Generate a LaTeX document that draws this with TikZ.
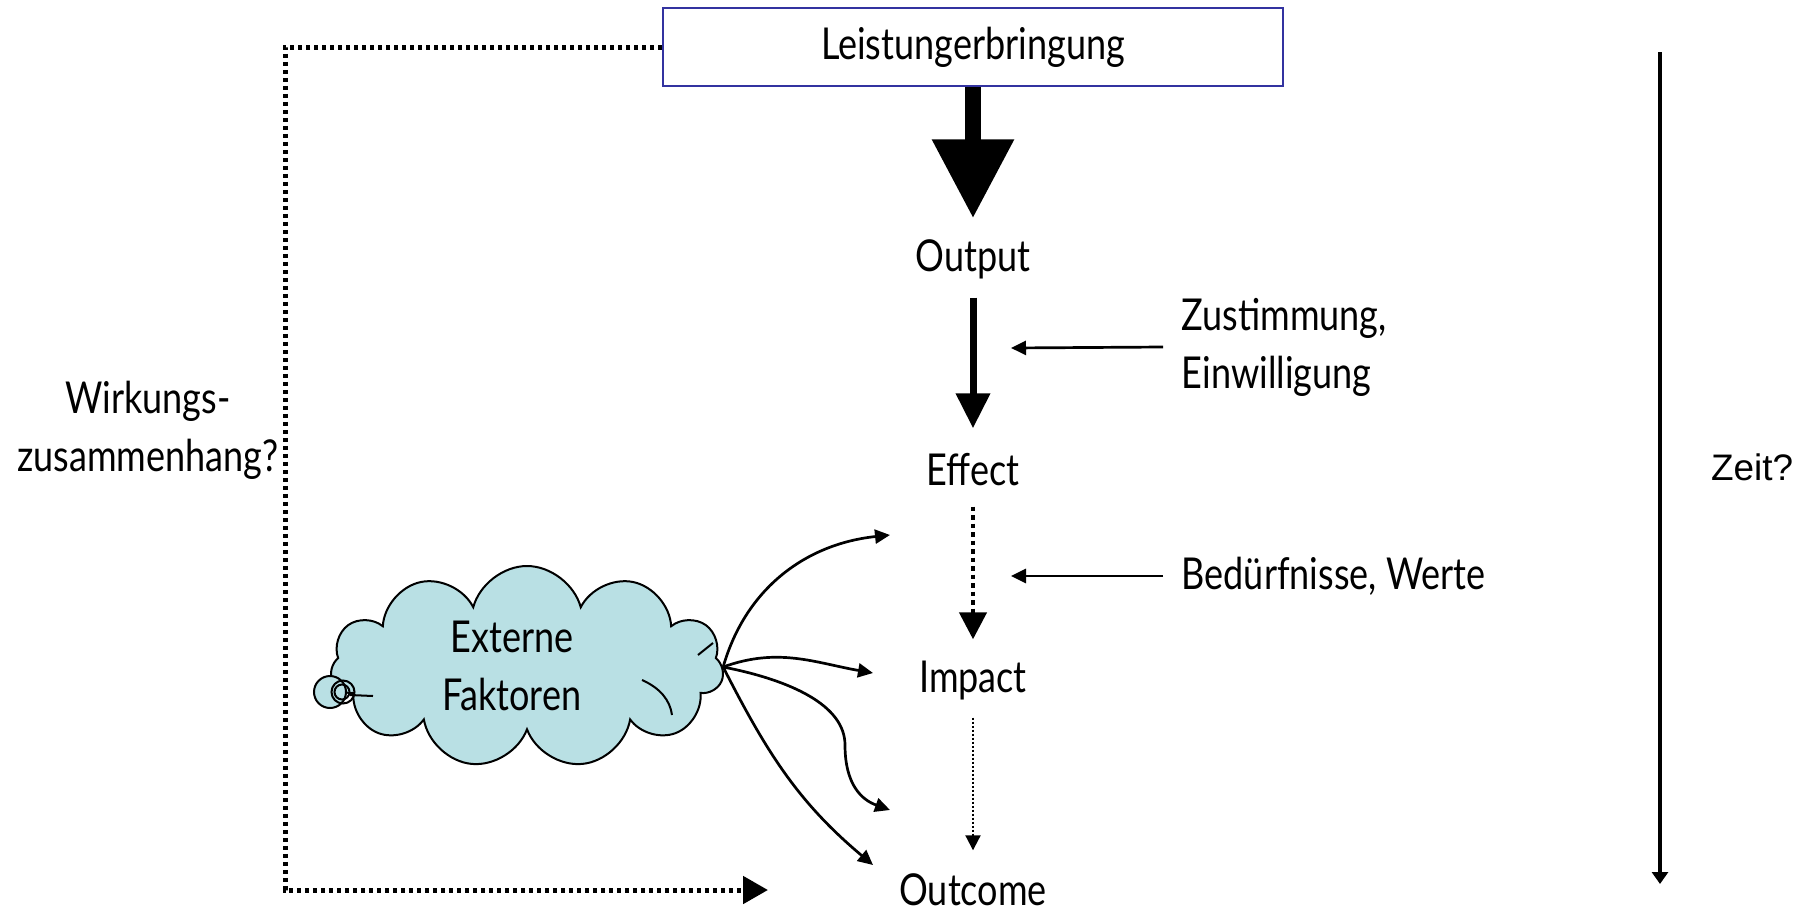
\documentclass[tikz,border=0pt]{standalone}
\usepackage{fontspec}
\setmainfont[FakeStretch=0.82]{Lato}
\newfontfamily\zeitfont{Liberation Sans}
\usetikzlibrary{arrows.meta, shapes.symbols}
\definecolor{cloudblue}{RGB}{185,224,228}
\definecolor{boxblue}{RGB}{51,51,160}

\begin{document}
\begin{tikzpicture}[x=0.1mm, y=-0.1mm,
  every node/.style={font=\fontsize{12.5}{16.5}\selectfont},
  stage/.style={minimum height=4mm, inner sep=0pt},
  side/.style={anchor=west, align=left, inner xsep=1.8mm, inner ysep=0pt},
  tip/.style={-{Triangle[length=1.5mm, width=1.4mm]}, line width=0.27mm}]
\useasboundingbox (0,0) rectangle (1805,911);
\node (lst) at (973,47) [draw=boxblue, line width=0.2mm, minimum width=62mm, minimum height=7.8mm] {Leistungerbringung};
\node (out) at (973,259) [stage] {Output};
\node (eff) at (973,470) [stage] {Effect};
\node (imp) at (973,681) [stage] {Impact};
\node (outc) at (973,890) [stage] {Outcome};
\node (zust) at (1163,347) [side] {Zustimmung,\\Einwilligung};
\node (bed) at (1163,576) [side] {Bedürfnisse, Werte};
\node (wirk) at (148,430) [align=center] {Wirkungs-\\zusammenhang?};
\node (zeit) at (1752,467) [font=\zeitfont\fontsize{10.5}{12}\selectfont] {Zeit?};
\node (ext) at (527,667) [cloud, cloud puffs=11, aspect=2, inner sep=0pt, draw, line width=0.2mm, fill=cloudblue, minimum width=39.3mm, minimum height=20.2mm] {};
\node (extlbl) at (512,666) [align=center] {Externe\\Faktoren};
\draw [line width=0.2mm, fill=cloudblue] (330,692) circle (16);
\draw [line width=0.2mm] (343,692) circle (11.5);
\draw [line width=0.2mm] (342,692) circle (7.5);
\draw [line width=0.2mm] (350,695) -- (373,696);
\draw [line width=0.2mm] (642,680) .. controls (660,688) and (670,700) .. (672,715);
\draw [line width=0.2mm] (698,655) -- (713,643);
\coordinate (zc) at (1011,348);
\coordinate (bc) at (1011,576);
\coordinate (lc) at (285,890);
\coordinate (lend) at (768,890);
\coordinate (t0) at (1660,52);
\coordinate (t1) at (1660,884);
\coordinate (c1) at (890,535);
\coordinate (c2) at (873,673);
\coordinate (c3) at (890,810);
\coordinate (c4) at (873,865);
\draw [line width=1.6mm, -{Triangle[length=7.9mm, width=7.8mm]}, shorten >=2mm] (lst.south) -- (out.north);
\draw [line width=0.7mm, -{Triangle[length=3.5mm, width=3.3mm]}, shorten <=1.8mm, shorten >=2.1mm] (out.south) -- (eff.north);
\draw [line width=0.45mm, dash pattern=on 0.45mm off 0.4mm, -{Triangle[length=2.7mm, width=2.7mm]}, shorten <=1.6mm, shorten >=2.1mm] (eff.south) -- (imp.north);
\draw [line width=0.2mm, dash pattern=on 0.2mm off 0.2mm, -{Triangle[length=1.5mm, width=1.5mm]}, shorten <=1.6mm, shorten >=1.9mm] (imp.south) -- (outc.north);
\draw [tip] (zust.west) -- (zc);
\draw [tip] (bed.west) -- (bc);
\draw [line width=0.5mm, dash pattern=on 0.45mm off 0.35mm, -{Triangle[length=2.5mm, width=2.7mm]}] (lst.west) -| (lc) -- (lend);
\draw [line width=0.4mm, -{Triangle[length=1.2mm, width=1.6mm]}] (t0) -- (t1);
\draw [tip] (ext.east) to[out=74, in=186] (c1);
\draw [tip] (ext.east) to[out=20, in=170] (c2);
\draw [tip] (ext.east) .. controls (790,680) and (845,705) .. (845,745) .. controls (845,785) and (862,800) .. (c3);
\draw [tip] (ext.east) to[out=-63, in=140] (c4);
\end{tikzpicture}
\end{document}
